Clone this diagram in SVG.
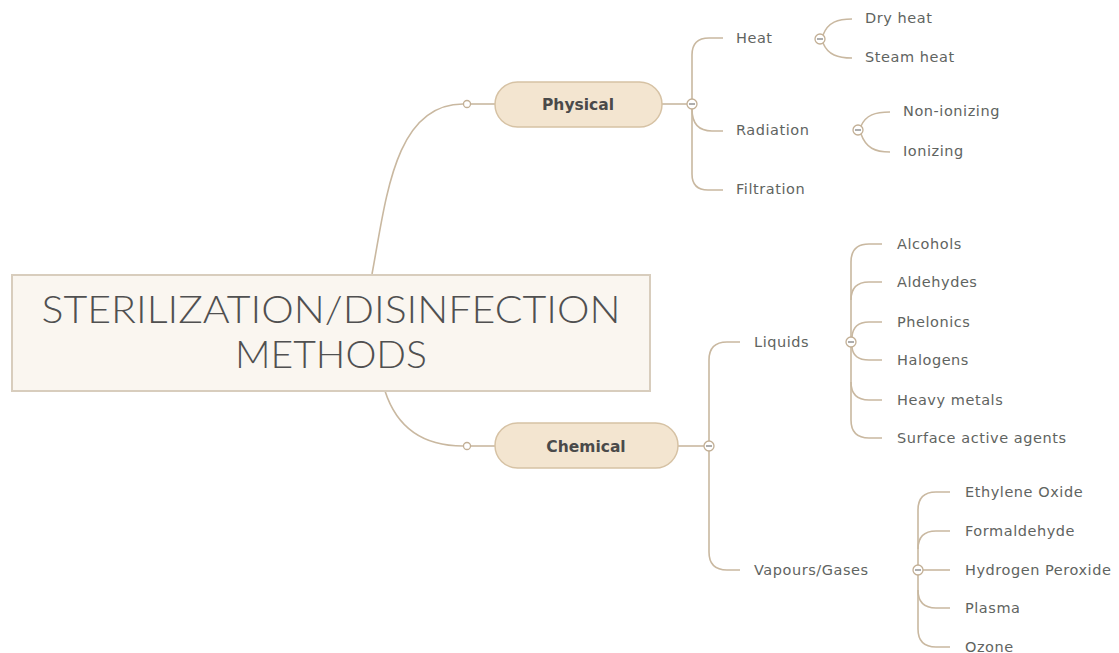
<svg xmlns="http://www.w3.org/2000/svg" width="1119" height="653" viewBox="0 0 1119 653">
<style>
.ln{fill:none;stroke:#c9b8a0;stroke-width:1.6}
.tog{fill:#fff;stroke:#c2af95;stroke-width:1.3}
.dot{fill:#fff;stroke:#c2af95;stroke-width:1.3}
.mn{stroke:#777;stroke-width:1.2}
.pill{fill:#f3e5d0;stroke:#d6c2a4;stroke-width:1.5}
.pt{font-family:"DejaVu Sans",sans-serif;font-size:15.5px;font-weight:bold;fill:#4a4a4a;text-anchor:middle}
.lt{font-family:"DejaVu Sans",sans-serif;font-size:14.5px;letter-spacing:0.55px;fill:#5f6461}
.tt{font-family:Lato,"Liberation Sans",sans-serif;font-size:38px;font-weight:300;fill:#505050;text-anchor:middle}
</style>
<rect width="1119" height="653" fill="#fff"/>
<g id="connectors">
<path class="ln" d="M372,274 C386,200 394,104 463,104"/>
<path class="ln" d="M471,104 L495,104"/>
<path class="ln" d="M385,391 C396,425 420,446 463,446"/>
<path class="ln" d="M471,446 L495,446"/>
<path class="ln" d="M662,104 L687,104"/>
<path class="ln" d="M692,99 L692,55 Q692,38 709,38 L723,38"/>
<path class="ln" d="M692,109 Q692,131 712,131 L723,131"/>
<path class="ln" d="M692,109 L692,174 Q692,190 708,190 L723,190"/>
<path class="ln" d="M823,35 C828,22 838,19 852,19"/>
<path class="ln" d="M823,43 C828,55 838,58 852,58"/>
<path class="ln" d="M861,126 C866,115 875,112 890,112"/>
<path class="ln" d="M861,134 C866,148 875,152 890,152"/>
<path class="ln" d="M678,446 L704,446"/>
<path class="ln" d="M709,441 L709,360 Q709,342 727,342 L740,342"/>
<path class="ln" d="M709,451 L709,552 Q709,570 727,570 L740,570"/>
<path class="ln" d="M851,337 L851,262 Q851,244 869,244 L882,244"/>
<path class="ln" d="M851,300 Q851,282 869,282 L882,282"/>
<path class="ln" d="M852,337 Q853,322 869,322 L882,322"/>
<path class="ln" d="M852,347 Q853,360 869,360 L882,360"/>
<path class="ln" d="M851,382 Q851,400 869,400 L882,400"/>
<path class="ln" d="M851,347 L851,420 Q851,438 869,438 L882,438"/>
<path class="ln" d="M918,565 L918,510 Q918,492 936,492 L950,492"/>
<path class="ln" d="M918,549 Q918,531 936,531 L950,531"/>
<path class="ln" d="M923,570 L950,570"/>
<path class="ln" d="M918,590 Q918,608 936,608 L950,608"/>
<path class="ln" d="M918,575 L918,629 Q918,647 936,647 L950,647"/>
<circle class="dot" cx="467" cy="104" r="3.5"/>
<circle class="dot" cx="467" cy="446" r="3.5"/>
</g>
<g id="root">
<rect x="12" y="275" width="638" height="116" fill="#faf6f0" stroke="#d8cdbd" stroke-width="2"/>
<text class="tt" x="331" y="323" textLength="579" lengthAdjust="spacingAndGlyphs">STERILIZATION/DISINFECTION</text>
<text class="tt" x="331" y="368" textLength="192" lengthAdjust="spacingAndGlyphs">METHODS</text>
</g>
<g id="physical">
<rect class="pill" x="495" y="82" width="167" height="45" rx="22.5"/>
<text class="pt" x="578" y="110">Physical</text>
<circle class="tog" cx="692" cy="104" r="5"/><line class="mn" x1="689" y1="104" x2="695" y2="104"/>
</g>
<g id="heat">
<text class="lt" x="736" y="43">Heat</text>
<circle class="tog" cx="820" cy="39" r="5"/><line class="mn" x1="817" y1="39" x2="823" y2="39"/>
</g>
<g id="dry-heat"><text class="lt" x="865" y="23">Dry heat</text></g>
<g id="steam-heat"><text class="lt" x="865" y="62">Steam heat</text></g>
<g id="radiation">
<text class="lt" x="736" y="135">Radiation</text>
<circle class="tog" cx="858" cy="130" r="5"/><line class="mn" x1="855" y1="130" x2="861" y2="130"/>
</g>
<g id="non-ionizing"><text class="lt" x="903" y="116">Non-ionizing</text></g>
<g id="ionizing"><text class="lt" x="903" y="156">Ionizing</text></g>
<g id="filtration"><text class="lt" x="736" y="194">Filtration</text></g>
<g id="chemical">
<rect class="pill" x="495" y="423" width="183" height="45" rx="22.5"/>
<text class="pt" x="586" y="452">Chemical</text>
<circle class="tog" cx="709" cy="446" r="5"/><line class="mn" x1="706" y1="446" x2="712" y2="446"/>
</g>
<g id="liquids">
<text class="lt" x="754" y="347">Liquids</text>
<circle class="tog" cx="851" cy="342" r="5"/><line class="mn" x1="848" y1="342" x2="854" y2="342"/>
</g>
<g id="alcohols"><text class="lt" x="897" y="249">Alcohols</text></g>
<g id="aldehydes"><text class="lt" x="897" y="287">Aldehydes</text></g>
<g id="phelonics"><text class="lt" x="897" y="327">Phelonics</text></g>
<g id="halogens"><text class="lt" x="897" y="365">Halogens</text></g>
<g id="heavy-metals"><text class="lt" x="897" y="405">Heavy metals</text></g>
<g id="surface-active"><text class="lt" x="897" y="443">Surface active agents</text></g>
<g id="vapours">
<text class="lt" x="754" y="575">Vapours/Gases</text>
<circle class="tog" cx="918" cy="570" r="5"/><line class="mn" x1="915" y1="570" x2="921" y2="570"/>
</g>
<g id="ethylene-oxide"><text class="lt" x="965" y="497">Ethylene Oxide</text></g>
<g id="formaldehyde"><text class="lt" x="965" y="536">Formaldehyde</text></g>
<g id="hydrogen-peroxide"><text class="lt" x="965" y="575">Hydrogen Peroxide</text></g>
<g id="plasma"><text class="lt" x="965" y="613">Plasma</text></g>
<g id="ozone"><text class="lt" x="965" y="652">Ozone</text></g>
</svg>
